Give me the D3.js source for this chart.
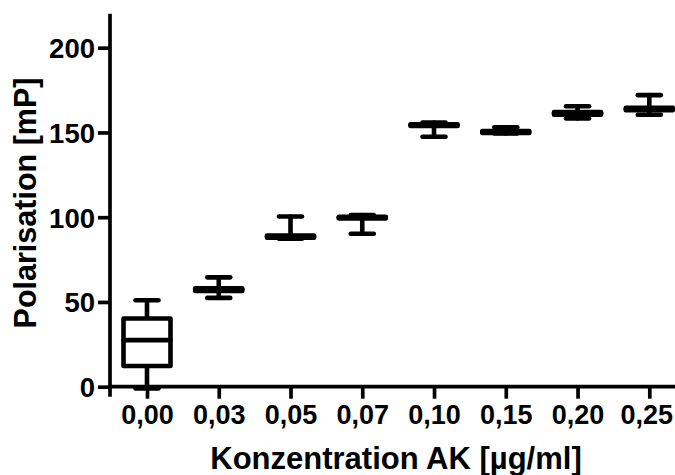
<!DOCTYPE html>
<html>
<head>
<meta charset="utf-8">
<script src="https://cdn.jsdelivr.net/npm/d3@7"></script>
<style>
  html, body { margin: 0; padding: 0; background: #fff; }
  svg { display: block; }
  text { font-family: "Liberation Sans", Arial, sans-serif; font-weight: bold; fill: #000; }
</style>
</head>
<body>
<script>
// Antibody concentration groups (µg/ml) and box-plot statistics of polarisation (mP)
const categories  = ["0,00", "0,03", "0,05", "0,07", "0,10", "0,15", "0,20", "0,25"];
const whiskerLow  = [-1.0, 52.4, 87.3,  90.2, 147.5, 149.4, 158.3, 160.4];
const quartile1   = [12.2, 56.5, 87.9,  99.3, 153.8, 149.7, 160.5, 163.1];
const medians     = [27.5, 57.3, 88.5,  99.8, 154.3, 150.2, 161.3, 163.8];
const quartile3   = [40.2, 58.1, 89.2, 100.3, 154.8, 150.8, 162.0, 164.5];
const whiskerHigh = [51.0, 64.5, 100.4, 101.2, 155.8, 153.0, 165.5, 172.0];
const yTicks = [0, 50, 100, 150, 200];
const yMax = 220;

const W = 675, H = 475;
const axisX = 110, axisY = 386.7;
const lineW = 4.6, axisW = 3.7;

const svg = d3.select("body").append("svg")
  .attr("width", W).attr("height", H);

const x = d3.scalePoint().domain(categories).range([147, 649.3]);
const y = d3.scaleLinear().domain([0, yMax]).range([axisY, 13.8]);

// Y axis
const gy = svg.append("g")
  .attr("transform", `translate(${axisX},0)`)
  .call(d3.axisLeft(y).tickValues(yTicks).tickSize(12).tickSizeOuter(0).tickPadding(3));
gy.select(".domain").remove();
gy.selectAll(".tick line").attr("stroke", "#000").attr("stroke-width", axisW);
gy.selectAll(".tick text").attr("font-size", 27.5).attr("dy", "0.36em")
  .style("font-family", "'Liberation Sans', Arial, sans-serif").style("font-weight", "bold");
svg.append("line")
  .attr("x1", axisX).attr("x2", axisX)
  .attr("y1", y(yMax)).attr("y2", axisY + 10)
  .attr("stroke", "#000").attr("stroke-width", axisW);

// X axis
const gx = svg.append("g")
  .attr("transform", `translate(0,${axisY})`)
  .call(d3.axisBottom(x).tickSize(12).tickSizeOuter(0).tickPadding(6));
gx.select(".domain").remove();
gx.selectAll(".tick line").attr("stroke", "#000").attr("stroke-width", axisW);
gx.selectAll(".tick text").attr("font-size", 27)
  .style("font-family", "'Liberation Sans', Arial, sans-serif").style("font-weight", "bold");
// keep the rightmost label inside the frame
gx.selectAll(".tick text").filter((d, i, n) => i === n.length - 1).attr("dx", -3);
svg.append("line")
  .attr("x1", axisX - 1.8).attr("x2", W + 20)
  .attr("y1", axisY).attr("y2", axisY)
  .attr("stroke", "#000").attr("stroke-width", axisW);

// Box plots
const boxHalf = 23.5, capHalf = 11.5;
const data = categories.map((c, i) => ({
  c, lo: whiskerLow[i], q1: quartile1[i], med: medians[i], q3: quartile3[i], hi: whiskerHigh[i]
}));
const g = svg.append("g")
  .attr("stroke", "#000").attr("stroke-width", lineW)
  .attr("stroke-linecap", "round").attr("stroke-linejoin", "round");

const box = g.selectAll("g.box").data(data).join("g").attr("class", "box");
// whisker stems
box.append("line")
  .attr("x1", d => x(d.c)).attr("x2", d => x(d.c))
  .attr("y1", d => y(d.hi)).attr("y2", d => y(d.q3));
box.append("line")
  .attr("x1", d => x(d.c)).attr("x2", d => x(d.c))
  .attr("y1", d => y(d.q1)).attr("y2", d => y(d.lo));
// interquartile box
box.append("rect")
  .attr("x", d => x(d.c) - boxHalf).attr("width", boxHalf * 2)
  .attr("y", d => y(d.q3)).attr("height", d => y(d.q1) - y(d.q3))
  .attr("fill", "#fff");
// median
box.append("line")
  .attr("x1", d => x(d.c) - boxHalf).attr("x2", d => x(d.c) + boxHalf)
  .attr("y1", d => y(d.med)).attr("y2", d => y(d.med));
// whisker caps
box.append("line")
  .attr("x1", d => x(d.c) - capHalf).attr("x2", d => x(d.c) + capHalf)
  .attr("y1", d => y(d.hi)).attr("y2", d => y(d.hi));
box.append("line")
  .attr("x1", d => x(d.c) - capHalf).attr("x2", d => x(d.c) + capHalf)
  .attr("y1", d => y(d.lo)).attr("y2", d => y(d.lo));

// Axis titles
svg.append("text")
  .attr("transform", "translate(36,203) rotate(-90)")
  .attr("text-anchor", "middle").attr("font-size", 30.5)
  .text("Polarisation [mP]");
svg.append("text")
  .attr("x", 396).attr("y", 469)
  .attr("text-anchor", "middle").attr("font-size", 31)
  .text("Konzentration AK [µg/ml]");
</script>
</body>
</html>
